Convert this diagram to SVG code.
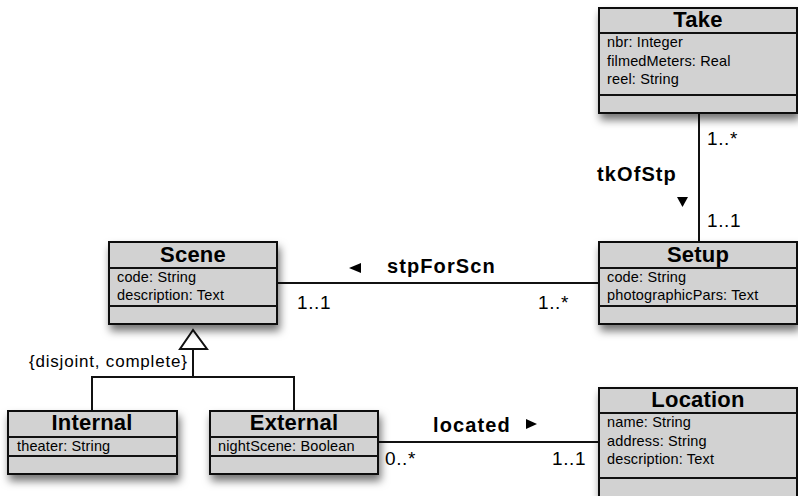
<svg xmlns="http://www.w3.org/2000/svg" width="798" height="496" viewBox="0 0 798 496">
<defs>
<filter id="sh" x="-20%" y="-20%" width="140%" height="160%">
<feDropShadow dx="2" dy="6" stdDeviation="4" flood-color="#000" flood-opacity="0.55"/>
</filter>
<style>
.box{fill:#d2d2d2;stroke:#111;stroke-width:2}
.div{stroke:#111;stroke-width:2}
.name{font-family:"Liberation Sans",Arial,Helvetica,sans-serif;font-weight:bold;font-size:22px;letter-spacing:0.2px;text-anchor:middle;fill:#000}
.attr{font-family:"Liberation Sans",Arial,Helvetica,sans-serif;font-size:14.5px;letter-spacing:0.15px;fill:#000}
.lbl{font-family:"Liberation Sans",Arial,Helvetica,sans-serif;font-weight:bold;font-size:20px;letter-spacing:1.1px;fill:#000}
.mult{font-family:"Liberation Sans",Arial,Helvetica,sans-serif;font-size:19px;letter-spacing:0.6px;fill:#000}
.con{stroke:#111;stroke-width:2;fill:none}
</style>
</defs>
<rect width="798" height="496" fill="#fff"/>

<g id="connectors">
<line class="con" x1="699" y1="113" x2="699" y2="242"/>
<line class="con" x1="277" y1="283" x2="599" y2="283"/>
<line class="con" x1="378" y1="442" x2="599" y2="442"/>
<polyline class="con" points="193,349 193,377"/>
<polyline class="con" points="92,411 92,377 294,377 294,411"/>
<polygon points="193,330 180,349 207,349" fill="#fff" stroke="#111" stroke-width="2"/>
<polygon points="349,268 361,263 361,273" fill="#000"/>
<polygon points="677,197 688,197 682.5,207" fill="#000"/>
<polygon points="526,419 537,424 526,429" fill="#000"/>
<text class="lbl" x="387" y="273">stpForScn</text>
<text class="lbl" x="597" y="181">tkOfStp</text>
<text class="lbl" x="433" y="432">located</text>
<text class="mult" x="297" y="309">1..1</text>
<text class="mult" x="538" y="309">1..*</text>
<text class="mult" x="707" y="145">1..*</text>
<text class="mult" x="707" y="227">1..1</text>
<text class="mult" x="385" y="465">0..*</text>
<text class="mult" x="552" y="465">1..1</text>
<text class="mult" x="29" y="367" style="font-size:17px;letter-spacing:0.8px">{disjoint, complete}</text>
</g>

<g id="Take">
<rect class="box" x="599" y="8" width="198" height="105" filter="url(#sh)"/>
<line class="div" x1="599" y1="33" x2="797" y2="33"/>
<line class="div" x1="599" y1="95" x2="797" y2="95"/>
<text class="name" x="698" y="27">Take</text>
<text class="attr" x="607" y="47">nbr: Integer</text>
<text class="attr" x="607" y="66">filmedMeters: Real</text>
<text class="attr" x="607" y="84">reel: String</text>
</g>

<g id="Setup">
<rect class="box" x="599" y="242" width="198" height="82" filter="url(#sh)"/>
<line class="div" x1="599" y1="268" x2="797" y2="268"/>
<line class="div" x1="599" y1="306" x2="797" y2="306"/>
<text class="name" x="698" y="262">Setup</text>
<text class="attr" x="607" y="282">code: String</text>
<text class="attr" x="607" y="300">photographicPars: Text</text>
</g>

<g id="Scene">
<rect class="box" x="109" y="242" width="168" height="82" filter="url(#sh)"/>
<line class="div" x1="109" y1="268" x2="277" y2="268"/>
<line class="div" x1="109" y1="306" x2="277" y2="306"/>
<text class="name" x="193" y="262">Scene</text>
<text class="attr" x="117" y="282">code: String</text>
<text class="attr" x="117" y="300">description: Text</text>
</g>

<g id="Internal">
<rect class="box" x="8" y="411" width="169" height="63" filter="url(#sh)"/>
<line class="div" x1="8" y1="437" x2="177" y2="437"/>
<line class="div" x1="8" y1="456" x2="177" y2="456"/>
<text class="name" x="92" y="430">Internal</text>
<text class="attr" x="17" y="451">theater: String</text>
</g>

<g id="External">
<rect class="box" x="210" y="411" width="168" height="63" filter="url(#sh)"/>
<line class="div" x1="210" y1="437" x2="378" y2="437"/>
<line class="div" x1="210" y1="456" x2="378" y2="456"/>
<text class="name" x="294" y="430">External</text>
<text class="attr" x="218" y="451">nightScene: Boolean</text>
</g>

<g id="Location">
<rect class="box" x="599" y="388" width="198" height="112" filter="url(#sh)"/>
<line class="div" x1="599" y1="413" x2="797" y2="413"/>
<line class="div" x1="599" y1="478" x2="797" y2="478"/>
<text class="name" x="698" y="407">Location</text>
<text class="attr" x="607" y="427">name: String</text>
<text class="attr" x="607" y="446">address: String</text>
<text class="attr" x="607" y="464">description: Text</text>
</g>
</svg>
